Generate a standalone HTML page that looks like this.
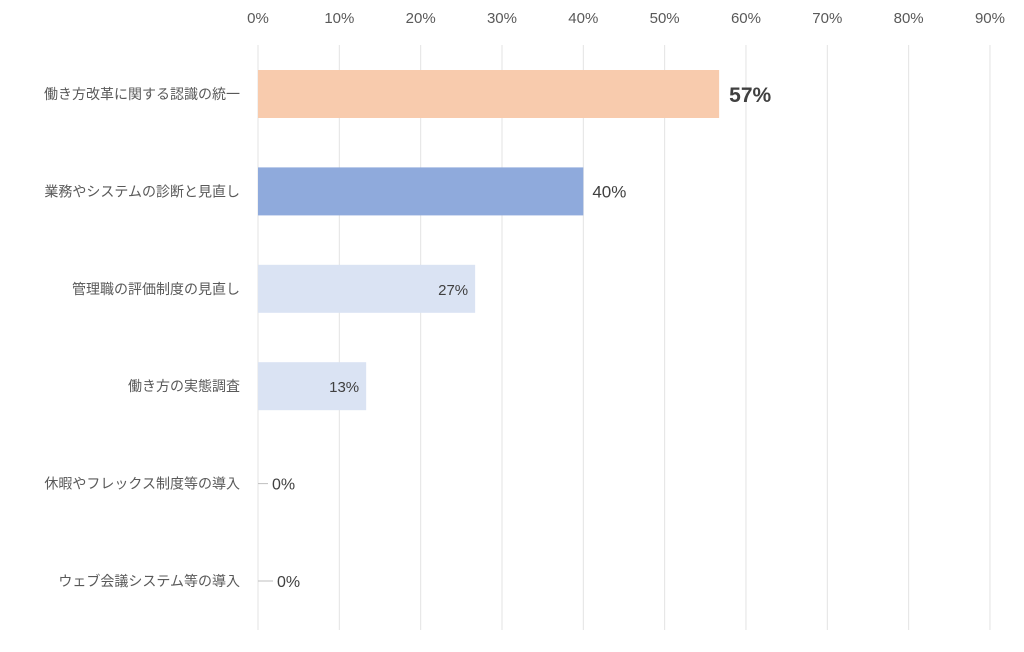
<!DOCTYPE html>
<html><head><meta charset="utf-8"><style>
body{margin:0;background:#fff;width:1024px;height:647px;overflow:hidden;font-family:"Liberation Sans","Noto Sans CJK JP",sans-serif}
</style></head><body>
<svg id="chart" width="1024" height="647" xmlns="http://www.w3.org/2000/svg"></svg>
<script>
const categories=["働き方改革に関する認識の統一","業務やシステムの診断と見直し","管理職の評価制度の見直し","働き方の実態調査","休暇やフレックス制度等の導入","ウェブ会議システム等の導入"];
const values=[56.7,40,26.7,13.3,0,0];
const valueLabels=["57%","40%","27%","13%","0%","0%"];
const ticks=[0,10,20,30,40,50,60,70,80,90];
const colors=["#F8CBAD","#8FAADC","#DAE3F3","#DAE3F3","#DAE3F3","#DAE3F3"];
const NS="http://www.w3.org/2000/svg";
const svg=document.getElementById('chart');
const x0=258,pxPer=8.133,plotTop=45,plotBottom=630,y0=94,step=97.4,bh=48;
const xs=v=>x0+v*pxPer;
const ys=i=>y0+i*step;
function mk(t,a){const e=document.createElementNS(NS,t);for(const k in a)e.setAttribute(k,a[k]);svg.appendChild(e);return e;}
ticks.forEach(t=>{
 const l=mk('line',{x1:xs(t),x2:xs(t),y1:plotTop,y2:plotBottom,stroke:'#E3E3E3','stroke-width':1});
 
 
 const tx=mk('text',{x:xs(t),y:23,'text-anchor':'middle','font-size':15,fill:'#595959'});
 tx.textContent=t+'%';
 
 
});
categories.forEach((c,i)=>{
 const cy=ys(i);
 const lab=mk('text',{x:240,y:cy+5,'text-anchor':'end','font-size':14,fill:'#595959'});
 lab.textContent=c;
 
 
 const w=xs(values[i])-x0;
 if(w>0){
  const r=mk('rect',{x:x0,y:cy-bh/2,width:w,height:bh,fill:colors[i]});
  
  
 }
 let t;
 if(i===0){t=mk('text',{x:xs(values[i])+10,y:cy+8,'font-size':21,'font-weight':'bold',fill:'#404040'});}
 else if(i===1){t=mk('text',{x:xs(values[i])+9,y:cy+6,'font-size':17,fill:'#404040'});}
 else if(values[i]>5){t=mk('text',{x:xs(values[i])-7,y:cy+6,'text-anchor':'end','font-size':15,fill:'#404040'});}
 else{
  const ll=10+(i-4)*5;
  const ld=mk('line',{x1:x0,x2:x0+ll,y1:cy,y2:cy,stroke:'#BFBFBF','stroke-width':1});
  
  
  t=mk('text',{x:x0+ll+4,y:cy+6,'font-size':16,fill:'#404040'});
 }
 t.textContent=valueLabels[i];
 
 
});
</script>
</body></html>
